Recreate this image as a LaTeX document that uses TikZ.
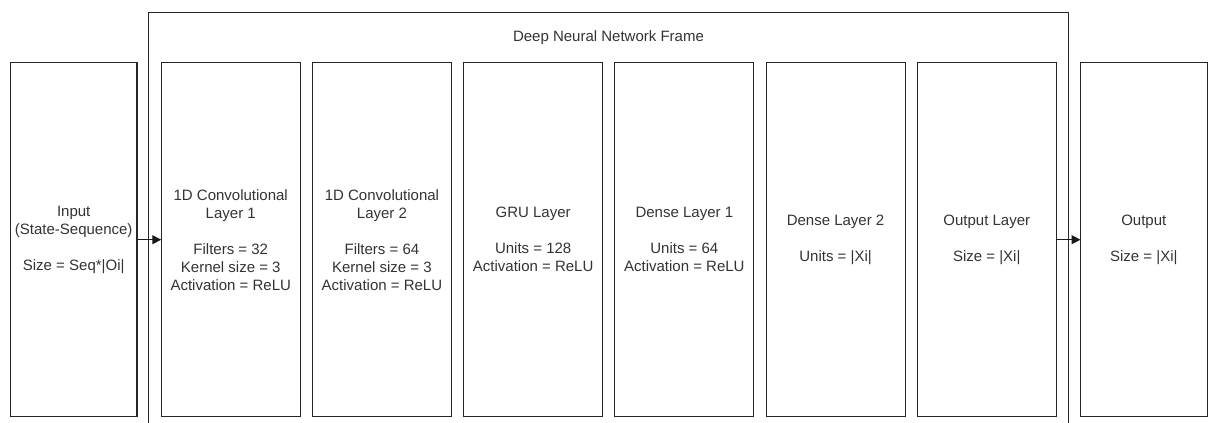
\documentclass[tikz,border=0pt]{standalone}
\usepackage{fontspec}
\setsansfont{Liberation Sans}
\usetikzlibrary{positioning,arrows.meta}

\begin{document}
\begin{tikzpicture}[x=1pt,y=-1pt,
    layer/.style={draw=black!85, line width=1.1pt, minimum width=139pt, minimum height=354pt,
        inner sep=0pt, outer sep=0pt, align=center, text=black!80, font=\sffamily\fontsize{15}{18}\selectfont},
    io/.style={layer, minimum width=126.5pt},
    flow/.style={-{Triangle[length=9pt,width=9pt]}, line width=1.1pt, black!90}]
    \useasboundingbox (0,0) rectangle (1208,423);
    % frame round the network, open at the bottom
    \draw[line width=1.1pt, black!85] (148.7,423) |- (1068.3,12.7) -- (1068.3,423);
    \node[text=black!80, font=\sffamily\fontsize{15}{18}\selectfont] (frametitle) at (608.5,38) {Deep Neural Network Frame};

    \node[io] (input) at (73.7,239.7) {Input\\(State-Sequence)\\[18pt]Size = Seq*|Oi|};
    \node[layer, right=24.3pt of input] (conv1) {1D Convolutional\\Layer 1\\[18pt]Filters = 32\\Kernel size = 3\\Activation = ReLU};
    \node[layer, right=12.2pt of conv1] (conv2) {1D Convolutional\\Layer 2\\[18pt]Filters = 64\\Kernel size = 3\\Activation = ReLU};
    \node[layer, right=12.2pt of conv2] (gru) {GRU Layer\\[18pt]Units = 128\\Activation = ReLU};
    \node[layer, right=12.2pt of gru] (dense1) {Dense Layer 1\\[18pt]Units = 64\\Activation = ReLU};
    \node[layer, right=12.2pt of dense1] (dense2) {Dense Layer 2\\[18pt]Units = |Xi|};
    \node[layer, right=12.2pt of dense2] (outlayer) {Output Layer\\[18pt]Size = |Xi|};
    \node[io, right=24.3pt of outlayer] (output) {Output\\[18pt]Size = |Xi|};

    \draw[flow] (input) -- (conv1);
    \draw[flow] (outlayer) -- (output);
\end{tikzpicture}
\end{document}
